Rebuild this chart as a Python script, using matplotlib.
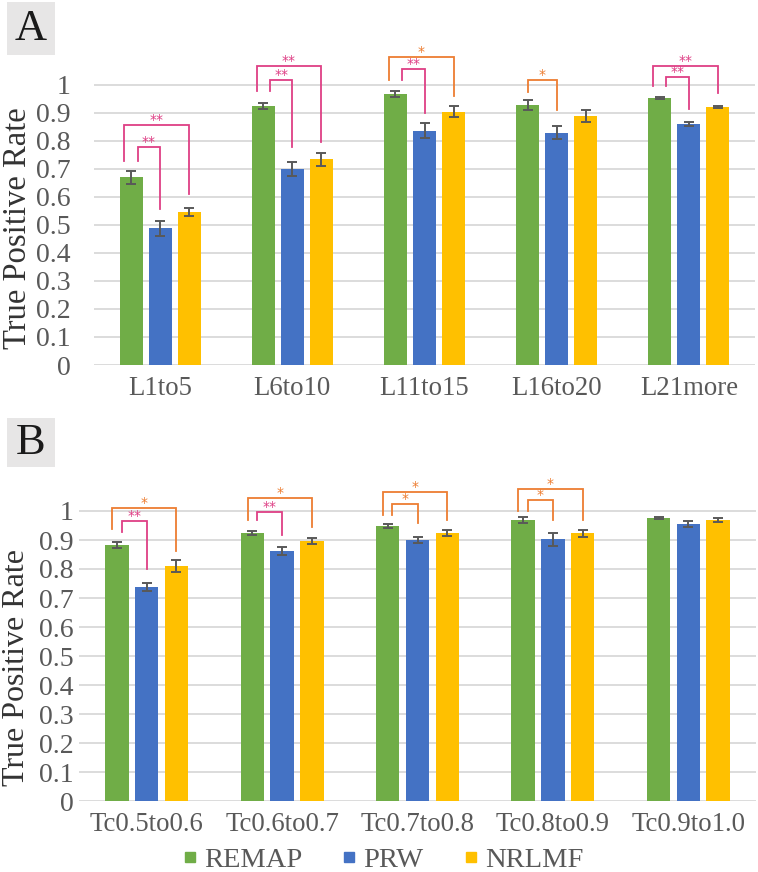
import matplotlib
matplotlib.use('Agg')
import matplotlib.pyplot as plt
import numpy as np
from matplotlib.patches import Rectangle
from matplotlib.lines import Line2D

series = ['REMAP', 'PRW', 'NRLMF']
colors = ['#70AD47', '#4472C4', '#FFC000']

cats_a = ['L1to5', 'L6to10', 'L11to15', 'L16to20', 'L21more']
remap_a = [0.671, 0.925, 0.968, 0.928, 0.954]
remap_a_err = [0.023, 0.010, 0.012, 0.017, 0.004]
prw_a = [0.489, 0.700, 0.836, 0.830, 0.860]
prw_a_err = [0.027, 0.025, 0.027, 0.022, 0.007]
nrlmf_a = [0.546, 0.735, 0.904, 0.890, 0.921]
nrlmf_a_err = [0.015, 0.023, 0.020, 0.021, 0.004]

cats_b = ['Tc0.5to0.6', 'Tc0.6to0.7', 'Tc0.7to0.8', 'Tc0.8to0.9', 'Tc0.9to1.0']
remap_b = [0.883, 0.924, 0.948, 0.969, 0.976]
remap_b_err = [0.010, 0.008, 0.008, 0.009, 0.003]
prw_b = [0.738, 0.862, 0.900, 0.903, 0.955]
prw_b_err = [0.014, 0.014, 0.010, 0.022, 0.010]
nrlmf_b = [0.810, 0.897, 0.924, 0.924, 0.969]
nrlmf_b_err = [0.020, 0.010, 0.010, 0.012, 0.006]

# significance brackets: (category, compared bar, left-leg side, top, left-leg bottom, right-leg bottom, label)
sig_a = [
    (0, 2, -1, 0.857, 0.729, 0.610, '**'),
    (0, 1, 1, 0.780, 0.729, 0.557, '**'),
    (1, 2, -1, 1.068, 0.979, 0.797, '**'),
    (1, 1, 1, 1.018, 0.979, 0.778, '**'),
    (2, 2, -1, 1.100, 1.018, 0.961, '*'),
    (2, 1, 1, 1.057, 1.018, 0.900, '**'),
    (3, 1, 0, 1.018, 0.975, 0.911, '*'),
    (4, 2, -1, 1.068, 0.996, 0.971, '**'),
    (4, 1, 1, 1.029, 0.996, 0.914, '**'),
]
sig_b = [
    (0, 2, -1, 1.010, 0.938, 0.862, '*'),
    (0, 1, 1, 0.966, 0.928, 0.800, '**'),
    (1, 2, -1, 1.045, 0.969, 0.945, '*'),
    (1, 1, 1, 0.997, 0.969, 0.917, '**'),
    (2, 2, -1, 1.066, 0.986, 0.969, '*'),
    (2, 1, 1, 1.024, 0.986, 0.959, '*'),
    (3, 2, -1, 1.076, 1.000, 0.969, '*'),
    (3, 1, 1, 1.038, 1.000, 0.969, '*'),
]
sig_colors = {'**': '#DE3F85', '*': '#ED7D31'}

ticks = [0, 0.1, 0.2, 0.3, 0.4, 0.5, 0.6, 0.7, 0.8, 0.9, 1.0]
tick_labels = ['0', '0.1', '0.2', '0.3', '0.4', '0.5', '0.6', '0.7', '0.8', '0.9', '1']

W, H = 758, 872
fig = plt.figure(figsize=(W / 100, H / 100), dpi=100)
serif = ['Liberation Serif', 'DejaVu Serif']
tick_col = '#595959'
grid_col = '#D9D9D9'
STEP, BW = 0.22, 0.174
YMAX = 1.12


def draw_panel(rect, cats, vals, errs, sigs, dleg, ypad):
    ax = fig.add_axes(rect)
    x = np.arange(len(cats))
    for k in range(3):
        ax.bar(x + (k - 1) * STEP, vals[k], BW, color=colors[k], zorder=2,
               yerr=errs[k], error_kw=dict(ecolor='#595959', elinewidth=1.4,
                                          capsize=3.8, capthick=1.4, zorder=3))
    ax.set_xlim(-0.5, len(cats) - 0.5)
    ax.set_ylim(0, YMAX)
    ax.set_yticks(ticks)
    ax.set_yticklabels(tick_labels, fontsize=20, family=serif, color=tick_col)
    ax.set_xticks(x)
    ax.set_xticklabels(cats, fontsize=19.3, family=serif, color=tick_col)
    ax.tick_params(axis='y', length=0, pad=ypad)
    ax.tick_params(axis='x', length=0, pad=8)
    ax.grid(axis='y', color=grid_col, lw=1.3)
    ax.set_axisbelow(True)
    for s in ax.spines.values():
        s.set_visible(False)
    for cat, j, side, top, yl, yr, lab in sigs:
        c = sig_colors[lab]
        xl = cat - STEP + side * dleg
        xr = cat + (j - 1) * STEP
        ax.plot([xl, xl, xr, xr], [yl, top, top, yr], color=c, lw=1.3,
                zorder=4, clip_on=False, solid_joinstyle='miter')
        ax.annotate(lab, ((xl + xr) / 2, top), xytext=(0, 0.5),
                    textcoords='offset points', ha='center', va='baseline',
                    fontsize=10, color=c, family='DejaVu Sans')
    return ax


# Panel A
ya0, ya1 = 365, 85
sa = (ya0 - ya1)
top_a = ya0 - YMAX * sa
draw_panel([94 / W, 1 - ya0 / H, 661 / W, (ya0 - top_a) / H], cats_a,
           [remap_a, prw_a, nrlmf_a], [remap_a_err, prw_a_err, nrlmf_a_err],
           sig_a, 0.05, 17)

# Panel B
yb0, yb1 = 801, 511
sb = (yb0 - yb1)
top_b = yb0 - YMAX * sb
draw_panel([79 / W, 1 - yb0 / H, 677 / W, (yb0 - top_b) / H], cats_b,
           [remap_b, prw_b, nrlmf_b], [remap_b_err, prw_b_err, nrlmf_b_err],
           sig_b, 0.035, 4)

# y labels
fig.text(2.5 / W, 1 - 228 / H, 'True Positive Rate', rotation=90, ha='left',
         va='center', fontsize=23.5, family=serif, color='#333333')
fig.text(2.5 / W, 1 - 668 / H, 'True Positive Rate', rotation=90, ha='left',
         va='center', fontsize=23, family=serif, color='#333333')

# panel letters
for (x0, y0, x1, y1, letter) in [(7, 2, 55, 55, 'A'), (7, 418, 55, 467, 'B')]:
    fig.add_artist(Rectangle((x0 / W, 1 - y1 / H), (x1 - x0) / W, (y1 - y0) / H,
                             transform=fig.transFigure, facecolor='#E7E6E6',
                             edgecolor='none'))
    fig.text((x0 + x1) / 2 / W, 1 - (y0 + y1) / 2 / H, letter, ha='center',
             va='center', fontsize=32, family=serif, color='#1a1a1a')

# legend
handles = [Line2D([], [], marker='s', ls='none', color=c, markersize=7.2) for c in colors]
leg = fig.legend(handles, series, loc='center', bbox_to_anchor=(383 / W, 1 - 860 / H),
                 ncol=3, frameon=False, handletextpad=0.25, columnspacing=1.4,
                 handlelength=0.5, borderpad=0, prop=dict(family=serif, size=20.5))
for t in leg.get_texts():
    t.set_color(tick_col)

fig.savefig('out.png', dpi=100)
